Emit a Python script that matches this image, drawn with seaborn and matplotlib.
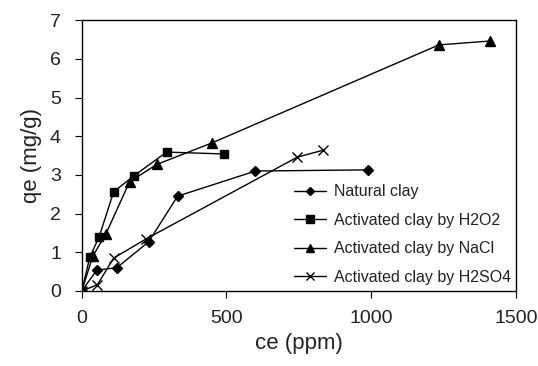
import pandas as pd
import matplotlib
matplotlib.use("Agg")
import matplotlib.pyplot as plt
import seaborn as sns

# values
natural_ce = [0, 52, 121, 231, 331, 600, 990]
natural_qe = [0, 0.54, 0.60, 1.27, 2.45, 3.10, 3.13]

h2o2_ce = [0, 28, 60, 110, 179, 293, 493]
h2o2_qe = [0, 0.88, 1.40, 2.56, 2.97, 3.59, 3.54]

nacl_ce = [0, 38, 83, 165, 259, 451, 1234, 1410]
nacl_qe = [0, 0.90, 1.47, 2.82, 3.27, 3.83, 6.36, 6.46]

h2so4_ce = [0, 54, 110, 221, 745, 835]
h2so4_qe = [0, 0.16, 0.85, 1.34, 3.46, 3.64]

labels = ["Natural clay", "Activated clay by H2O2",
          "Activated clay by NaCl", "Activated clay by H2SO4"]


def main():
    sns.set_style("ticks")
    plt.rcParams['font.family'] = ['Liberation Sans', 'DejaVu Sans']
    textColor = "#222222"

    frames = []
    for lab, xs, ys in zip(labels,
                           [natural_ce, h2o2_ce, nacl_ce, h2so4_ce],
                           [natural_qe, h2o2_qe, nacl_qe, h2so4_qe]):
        frames.append(pd.DataFrame({"ce": xs, "qe": ys, "series": lab}))
    df = pd.concat(frames, ignore_index=True)

    fig = plt.figure(figsize=(5.38, 3.66), dpi=100)
    ax = fig.add_axes([0.152, 0.205, 0.807, 0.740])

    markers = {labels[0]: "D", labels[1]: "s", labels[2]: "^", labels[3]: "x"}
    sizes = {labels[0]: 5, labels[1]: 6, labels[2]: 7, labels[3]: 6.5}
    for lab in labels:
        sub = df[df["series"] == lab]
        sns.lineplot(data=sub, x="ce", y="qe", ax=ax, color="black",
                     linewidth=1.0, marker=markers[lab], markersize=sizes[lab],
                     markeredgecolor="black", markerfacecolor="black",
                     markeredgewidth=1.0, sort=False, label=lab)

    ax.set_xlim(0, 1500)
    ax.set_ylim(0, 7)
    ax.set_xticks([0, 500, 1000, 1500])
    ax.set_yticks(range(0, 8))
    ax.tick_params(axis="both", labelsize=14, length=5, width=0.8,
                   color="black", labelcolor=textColor)
    ax.tick_params(axis="x", pad=9)
    ax.tick_params(axis="y", pad=10)
    for s in ax.spines.values():
        s.set_linewidth(1.0)
        s.set_color("black")
        s.set_visible(True)
    ax.set_xlabel("ce (ppm)", fontsize=16, labelpad=4, color=textColor)
    ax.set_ylabel("qe (mg/g)", fontsize=16, labelpad=6, color=textColor)

    leg = ax.legend(loc="upper left", bbox_to_anchor=(0.455, 0.447),
                    frameon=False, fontsize=11.5, handlelength=2.0,
                    handletextpad=0.5, labelspacing=0.85,
                    markerscale=0.85)
    for t in leg.get_texts():
        t.set_color(textColor)

    fig.savefig("out.png", dpi=100)


if __name__ == "__main__":
    main()
